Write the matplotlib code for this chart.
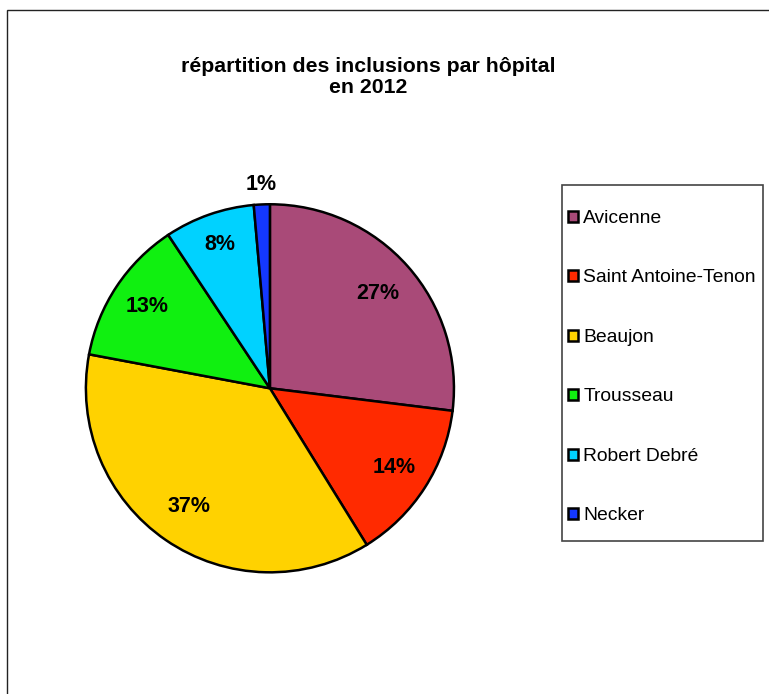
import matplotlib.pyplot as plt
from matplotlib.patches import Rectangle
import numpy as np

plt.rcParams['font.family'] = ['Liberation Sans', 'DejaVu Sans']

# data (share of inclusions, %)
hospitals = ['Avicenne', 'Saint Antoine-Tenon', 'Beaujon', 'Trousseau', 'Robert Debré', 'Necker']
shares = [26.9, 14.2, 36.7, 12.7, 7.9, 1.4]
labels = ['27%', '14%', '37%', '13%', '8%', '1%']
colors = ['#A94A78', '#FF2A00', '#FFD200', '#10F010', '#00D2FF', '#1438FF']

# radial position of each percentage label (fraction of radius)
label_dist = [0.78, 0.80, 0.78, 0.80, 0.83, 1.11]

fig = plt.figure(figsize=(7.69, 6.94), dpi=100)
ax = fig.add_axes([0.1105, 0.174, 0.481, 0.533])

wedges, _ = ax.pie(shares, colors=colors, startangle=90, counterclock=False,
                   wedgeprops=dict(edgecolor='black', linewidth=1.8))
ax.set_aspect('equal')
ax.set_xlim(-1.005, 1.005)
ax.set_ylim(-1.005, 1.005)

for w, lab, d in zip(wedges, labels, label_dist):
    ang = np.deg2rad((w.theta1 + w.theta2) / 2)
    ax.text(d * np.cos(ang), d * np.sin(ang), lab, ha='center', va='center',
            fontsize=15.5, fontweight='bold', clip_on=False)

fig.text(0.479, 0.889, 'répartition des inclusions par hôpital\nen 2012',
         ha='center', va='center', fontsize=15.3, fontweight='bold', linespacing=1.15)

# legend box drawn by hand, legend itself without frame
fig.add_artist(Rectangle((562 / 769, 1 - 541 / 694), 201 / 769, 356 / 694,
                         transform=fig.transFigure, facecolor='none',
                         edgecolor='#444444', linewidth=1.2))
leg = fig.legend(wedges, hospitals, loc='upper left', bbox_to_anchor=(568 / 769, 1 - 210 / 694),
                 frameon=False, fontsize=13.9, handlelength=0.5, handleheight=0.5,
                 handletextpad=0.3, labelspacing=2.2, borderpad=0, borderaxespad=0)

# outer chart border (only top and left visible)
fig.add_artist(Rectangle((7 / 769, -0.1), 1.2, 1.1 - 10 / 694, transform=fig.transFigure,
                         facecolor='none', edgecolor='#222222', linewidth=1.0, clip_on=False))

fig.savefig('out.png', dpi=100)
